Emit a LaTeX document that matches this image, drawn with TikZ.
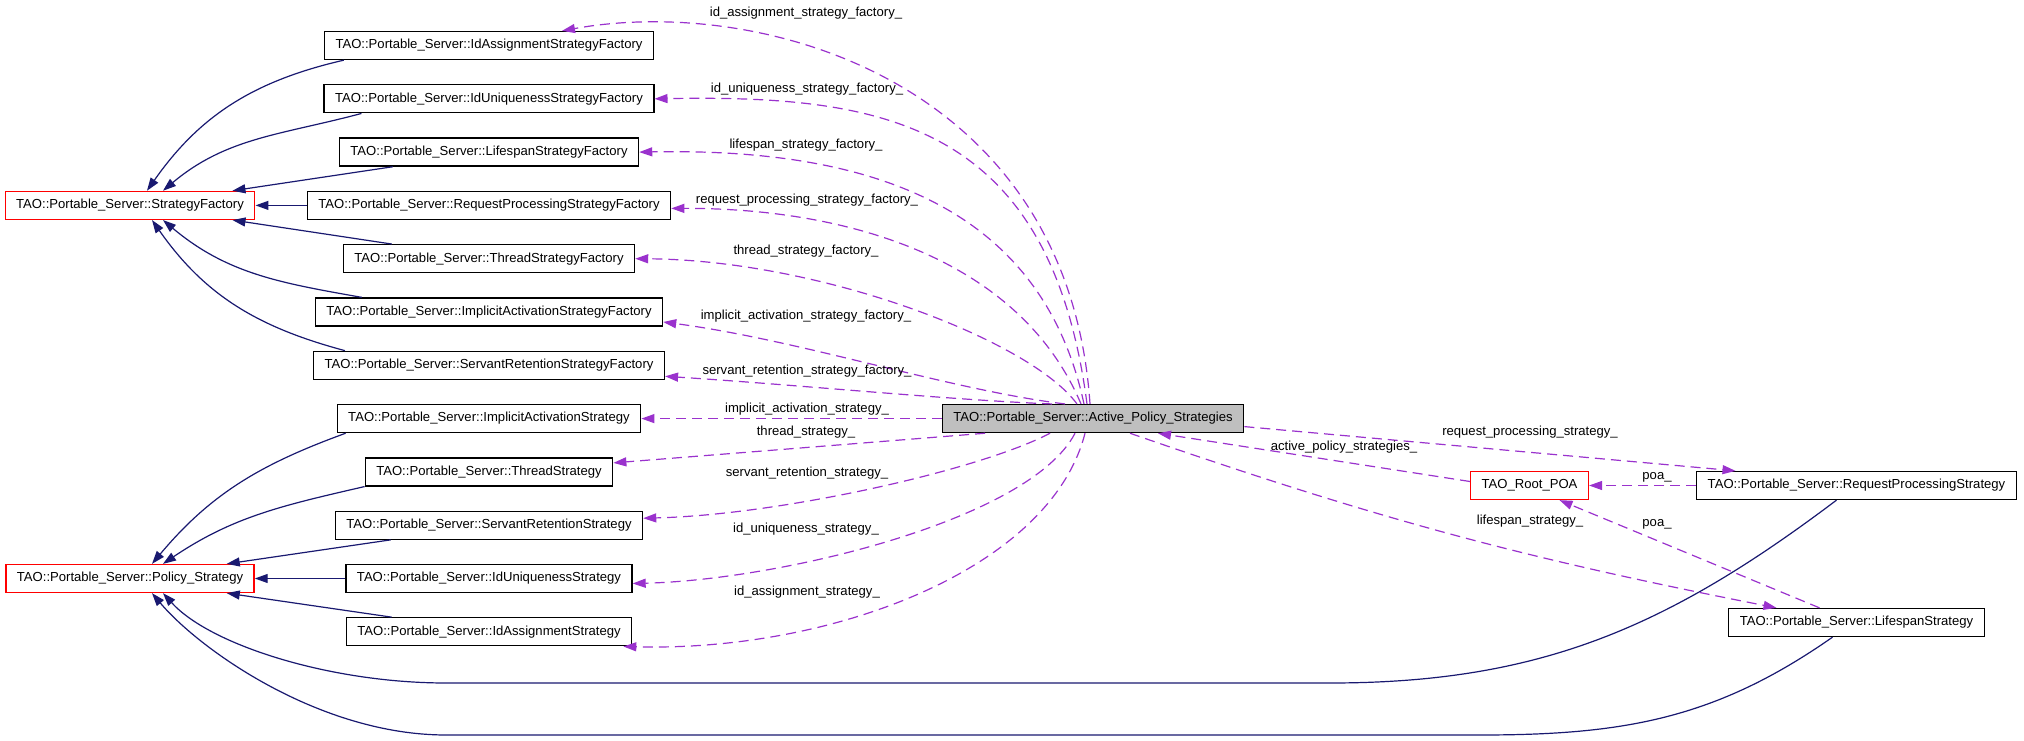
\documentclass[tikz,border=0pt]{standalone}
\usepackage{fontspec}
\setmainfont{Liberation Sans}
\usetikzlibrary{positioning,arrows.meta}
\definecolor{inhblue}{HTML}{191970}
\definecolor{memberpurple}{HTML}{9A32CD}
\definecolor{selfgray}{HTML}{BFBFBF}
\tikzset{>={Triangle[length=13pt,width=9pt]}}
\tikzset{
  cls/.style={draw=black, line width=1.3pt, rectangle, minimum height=28pt, inner xsep=11pt, inner ysep=0pt, font=\fontsize{13.1}{15}\selectfont},
  basecls/.style={cls, draw=red},
  selfcls/.style={cls, fill=selfgray},
  inherit/.style={->, draw=inhblue, line width=1.2pt},
  member/.style={->, draw=memberpurple, line width=1.2pt, dash pattern=on 10pt off 6pt},
  lbl/.style={font=\fontsize{13.1}{15}\selectfont, inner sep=0pt}
}

\begin{document}
\begin{tikzpicture}[x=1pt,y=1pt]
      \useasboundingbox (0,0) rectangle (2024,740);
      % column of member types
      \node[cls] (fIA) at (489,694.5) {TAO::Portable\_Server::IdAssignmentStrategyFactory};
      \node[cls, below of=fIA, node distance=53.3pt] (fIU) {TAO::Portable\_Server::IdUniquenessStrategyFactory};
      \node[cls, below of=fIU, node distance=53.3pt] (fLS) {TAO::Portable\_Server::LifespanStrategyFactory};
      \node[cls, below of=fLS, node distance=53.3pt] (fRP) {TAO::Portable\_Server::RequestProcessingStrategyFactory};
      \node[cls, below of=fRP, node distance=53.3pt] (fTS) {TAO::Portable\_Server::ThreadStrategyFactory};
      \node[cls, below of=fTS, node distance=53.3pt] (fIAc) {TAO::Portable\_Server::ImplicitActivationStrategyFactory};
      \node[cls, below of=fIAc, node distance=53.3pt] (fSR) {TAO::Portable\_Server::ServantRetentionStrategyFactory};
      \node[cls, below of=fSR, node distance=53.3pt] (sIAc) {TAO::Portable\_Server::ImplicitActivationStrategy};
      \node[cls, below of=sIAc, node distance=53.3pt] (sTS) {TAO::Portable\_Server::ThreadStrategy};
      \node[cls, below of=sTS, node distance=53.3pt] (sSR) {TAO::Portable\_Server::ServantRetentionStrategy};
      \node[cls, below of=sSR, node distance=53.3pt] (sIU) {TAO::Portable\_Server::IdUniquenessStrategy};
      \node[cls, below of=sIU, node distance=53.3pt] (sIA) {TAO::Portable\_Server::IdAssignmentStrategy};
      % base classes and the rest
      \node[basecls, left of=fRP, node distance=359pt] (nSF) {TAO::Portable\_Server::StrategyFactory};
      \node[basecls, left of=sIU, node distance=359pt] (nPS) {TAO::Portable\_Server::Policy\_Strategy};
      \node[selfcls, right of=sIAc, node distance=604pt] (nAPS) {TAO::Portable\_Server::Active\_Policy\_Strategies};
      \node[basecls] (nPOA) at (1529.5,254.5) {TAO\_Root\_POA};
      \node[cls, right of=nPOA, node distance=327pt] (nRPS) {TAO::Portable\_Server::RequestProcessingStrategy};
      \node[cls, below of=nRPS, node distance=137pt] (nLS) {TAO::Portable\_Server::LifespanStrategy};
      % inheritance
      \draw[inherit] ([xshift=20pt]fIA.south west) to[out=193,in=55] ([xshift=17pt]nSF.north);
      \draw[inherit] ([xshift=38pt]fIU.south west) to[out=195,in=40] ([xshift=33pt]nSF.north);
      \draw[inherit] ([xshift=54pt]fLS.south west) -- ([xshift=-23pt]nSF.north east);
      \draw[inherit] (fRP.west) -- (nSF.east);
      \draw[inherit] ([xshift=49pt]fTS.north west) -- ([xshift=-23pt]nSF.south east);
      \draw[inherit] ([xshift=47pt]fIAc.north west) to[out=170,in=-40] ([xshift=33pt]nSF.south);
      \draw[inherit] ([xshift=32pt]fSR.north west) to[out=165,in=-55] ([xshift=22pt]nSF.south);
      \draw[inherit] ([xshift=9pt]sIAc.south west) to[out=200,in=50] ([xshift=22pt]nPS.north);
      \draw[inherit] (sTS.south west) to[out=193,in=34] ([xshift=33pt]nPS.north);
      \draw[inherit] ([xshift=56pt]sSR.south west) -- ([xshift=-28pt]nPS.north east);
      \draw[inherit] (sIU.west) -- (nPS.east);
      \draw[inherit] ([xshift=46pt]sIA.north west) -- ([xshift=-28pt]nPS.south east);
      \draw[inherit] ([xshift=-20pt]nRPS.south) to[out=217,in=0] (1330,57) -- (446,57) .. controls (330,57) and (210,95) .. ([xshift=33pt]nPS.south);
      \draw[inherit] ([xshift=-24pt]nLS.south) to[out=215,in=0] (1480,5) -- (446,5) .. controls (320,5) and (200,90) .. ([xshift=22pt]nPS.south);
      % members
      \draw[member] ([xshift=-3pt]nAPS.north) .. controls (1068,660) and (760,745) .. ([xshift=73pt]fIA.north);
      \draw[member] ([xshift=-6pt]nAPS.north) .. controls (1050,620) and (880,645) .. (fIU.east);
      \draw[member] ([xshift=-9pt]nAPS.north) .. controls (1040,540) and (860,592) .. (fLS.east);
      \draw[member] ([xshift=-12pt]nAPS.north) .. controls (1020,480) and (850,532) .. ([yshift=-3pt]fRP.east);
      \draw[member] ([xshift=-16pt]nAPS.north) .. controls (1030,400) and (820,480) .. (fTS.east);
      \draw[member] ([xshift=-28pt]nAPS.north) .. controls (950,350) and (800,400) .. ([yshift=-10pt]fIAc.east);
      \draw[member] ([xshift=-41pt]nAPS.north) .. controls (950,340) and (800,355) .. ([yshift=-11pt]fSR.east);
      \draw[member] (nAPS.west) -- (sIAc.east);
      \draw[member] ([xshift=-108pt]nAPS.south) -- ([yshift=9pt]sTS.east);
      \draw[member] ([xshift=-43pt]nAPS.south) .. controls (980,270) and (780,225) .. ([yshift=7pt]sSR.east);
      \draw[member] ([xshift=-18pt]nAPS.south) .. controls (1030,220) and (780,160) .. ([yshift=-5pt]sIU.east);
      \draw[member] ([xshift=-8pt]nAPS.south) .. controls (1050,170) and (830,88) .. ([xshift=-9pt]sIA.south east);
      \draw[member] ([yshift=-8pt]nAPS.east) -- ([xshift=-121pt]nRPS.north);
      \draw[member] ([yshift=4pt]nPOA.west) -- ([xshift=65pt]nAPS.south);
      \draw[member] ([xshift=37pt]nAPS.south) to[bend right=4] ([xshift=-80pt]nLS.north);
      \draw[member] (nRPS.west) -- (nPOA.east);
      \draw[member] ([xshift=-37pt]nLS.north) -- ([xshift=30pt]nPOA.south);
      % labels
      \node[lbl] (lIAF) at (806,727) {id\_assignment\_strategy\_factory\_};
      \node[lbl] (lIUF) at (807,651) {id\_uniqueness\_strategy\_factory\_};
      \node[lbl] (lLSF) at (806,595) {lifespan\_strategy\_factory\_};
      \node[lbl] (lRPF) at (807,540) {request\_processing\_strategy\_factory\_};
      \node[lbl] (lTSF) at (806,489) {thread\_strategy\_factory\_};
      \node[lbl] (lIAcF) at (806,424) {implicit\_activation\_strategy\_factory\_};
      \node[lbl] (lSRF) at (807,369) {servant\_retention\_strategy\_factory\_};
      \node[lbl] (lIAc) at (807,331) {implicit\_activation\_strategy\_};
      \node[lbl] (lTS) at (806,308) {thread\_strategy\_};
      \node[lbl] (lSR) at (807,267) {servant\_retention\_strategy\_};
      \node[lbl] (lIU) at (806,211) {id\_uniqueness\_strategy\_};
      \node[lbl] (lIA) at (807,148) {id\_assignment\_strategy\_};
      \node[lbl] (lRPS) at (1530,308) {request\_processing\_strategy\_};
      \node[lbl] (lAPS) at (1344,293) {active\_policy\_strategies\_};
      \node[lbl] (lLS) at (1530,219) {lifespan\_strategy\_};
      \node[lbl] (lPOA1) at (1657,263) {poa\_};
      \node[lbl] (lPOA2) at (1657,216) {poa\_};
\end{tikzpicture}
\end{document}
